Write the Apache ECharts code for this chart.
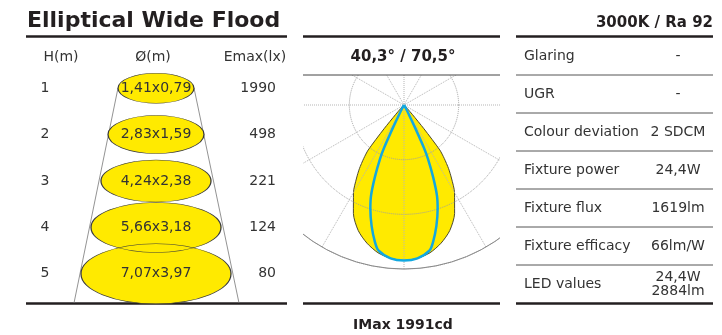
<!DOCTYPE html>
<html><head><meta charset="utf-8">
<script src="https://cdn.jsdelivr.net/npm/echarts@6/dist/echarts.min.js"></script>
<style>html,body{margin:0;padding:0;background:#fff}#c{width:722px;height:335px}</style>
</head><body><div id="c"></div>
<script>
// ---------- data ----------
const titleText = 'Elliptical Wide Flood';
const cctText = '3000K / Ra 92';
const tableHeaders = ['H(m)', 'Ø(m)', 'Emax(lx)'];
const heights = ['1', '2', '3', '4', '5'];
const spotSizes = ['1,41x0,79', '2,83x1,59', '4,24x2,38', '5,66x3,18', '7,07x3,97'];
const emax = ['1990', '498', '221', '124', '80'];
const beamAngles = '40,3° / 70,5°';
const imaxText = 'IMax 1991cd';
const specLabels = ['Glaring', 'UGR', 'Colour deviation', 'Fixture power', 'Fixture flux', 'Fixture efficacy', 'LED values'];
const specValues = ['-', '-', '2 SDCM', '24,4W', '1619lm', '66lm/W', '24,4W\n2884lm'];
// polar intensity curves (gamma from nadir in degrees, intensity in cd)
const gammaC0 = [0, 5, 10, 15, 20, 25, 30, 33, 35, 37, 38.5, 40, 41.5, 43, 50, 60, 90];
const cdC0 = [1991, 1971, 1921, 1832, 1712, 1533, 1294, 1115, 996, 856, 737, 398, 159, 60, 10, 0, 0];
const gammaC90 = [0, 5, 10, 12, 15, 18, 20, 22, 24, 25, 26, 27, 30, 35, 90];
const cdC90 = [1991, 1971, 1891, 1792, 1603, 1394, 1234, 996, 757, 597, 319, 139, 40, 0, 0];
const radiusRings = { max: 2100, step: 700 };

// ---------- styles ----------
const ellipseSizes = [[76, 30], [96, 38], [110, 42], [130, 50], [150, 60]];
const FONT = 'DejaVu Sans';
const TXT = '#333333';
const YELLOW = '#FFEA00';
const BLUE = '#12A8E0';
const ELLIPSE = 'path://M50,0C77.6,0,100,22.4,100,50C100,77.6,77.6,100,50,100C22.4,100,0,77.6,0,50C0,22.4,22.4,0,50,0Z';

function polarCurve(g, cd) {
  const pts = [];
  for (let i = g.length - 1; i >= 0; i--) pts.push([cd[i], g[i]]);
  for (let i = 1; i < g.length; i++) pts.push([cd[i], 360 - g[i]]);
  return pts;
}

const gfx = [];
// masks hiding polar grid outside the middle panel
[[0, 0, 722, 75], [0, 75, 303, 260], [500, 75, 222, 260], [0, 303, 722, 32]].forEach(r => {
  gfx.push({ type: 'rect', z: 10, silent: true, shape: { x: r[0], y: r[1], width: r[2], height: r[3] }, style: { fill: '#ffffff' } });
});
function line(x1, y1, x2, y2, w, c) {
  gfx.push({ type: 'line', z: 15, silent: true, shape: { x1, y1, x2, y2 }, style: { stroke: c || '#231F20', lineWidth: w } });
}
function text(t, x, y, size, weight, align, color) {
  gfx.push({ type: 'text', z: 25, silent: true, x, y, style: { text: t, fontFamily: FONT, fontSize: size, fontWeight: weight, fill: color || TXT, textAlign: align, textVerticalAlign: 'middle', lineHeight: 14 } });
}
// title + top lines
text(titleText, 27, 21, 22, 'bold', 'left', '#231F20');
text(cctText, 713, 23, 15, 'bold', 'right', '#231F20');
line(26, 36.5, 287, 36.5, 2.5);
line(303, 36.5, 500, 36.5, 2.5);
line(516, 36.5, 713, 36.5, 2.5);
// bottom lines
line(26, 303.5, 287, 303.5, 2.5);
line(303, 303.5, 500, 303.5, 2.5);
line(516, 303.5, 713, 303.5, 2.5);
// left table headers
const headerX = [61, 153, 255];
tableHeaders.forEach((h, i) => text(h, headerX[i], 57, 14, 'normal', 'center'));
// cone lines
line(118, 88, 74, 303, 0.8, '#777');
line(194, 88, 239, 303, 0.8, '#777');
// middle panel
text(beamAngles, 403, 57, 15, 'bold', 'center', '#231F20');
line(303, 75, 500, 75, 1, '#444');
text(imaxText, 403, 325, 14, 'bold', 'center', '#231F20');
// right table
specLabels.forEach((lab, i) => {
  const cy = 56 + 38 * i;
  text(lab, 524, cy, 14, 'normal', 'left');
  text(specValues[i], 678, cy, 14, 'normal', 'center');
  if (i < specLabels.length - 1) line(516, 75 + 38 * i, 713, 75 + 38 * i, 1, '#555');
});

const chart = echarts.init(document.getElementById('c'), null, { renderer: 'canvas' });
chart.setOption({
  backgroundColor: '#ffffff',
  animation: false,
  grid: { left: 60, top: 65, width: 192, height: 232, containLabel: false },
  xAxis: { type: 'value', min: 0, max: 1, show: false },
  yAxis: [
    { type: 'category', data: heights, inverse: true, position: 'left', z: 20,
      axisLine: { show: false }, axisTick: { show: false }, splitLine: { show: false },
      axisLabel: { align: 'center', margin: 15, fontSize: 14, color: TXT, fontFamily: FONT } },
    { type: 'category', data: emax, inverse: true, position: 'right', z: 20,
      axisLine: { show: false }, axisTick: { show: false }, splitLine: { show: false },
      axisLabel: { align: 'right', margin: 24, fontSize: 14, color: TXT, fontFamily: FONT } }
  ],
  polar: { center: [404, 105], radius: 164 },
  angleAxis: {
    type: 'value', min: 0, max: 360, interval: 30, startAngle: 270, clockwise: true, z: 3,
    axisLine: { show: true, lineStyle: { color: '#8a8a8a', width: 1 } },
    axisTick: { show: false }, axisLabel: { show: false },
    splitLine: { show: true, lineStyle: { color: '#b5b5b5', type: 'dotted', width: 1 } }
  },
  radiusAxis: {
    type: 'value', min: 0, max: radiusRings.max, interval: radiusRings.step, z: 3,
    axisLine: { show: false }, axisTick: { show: false }, axisLabel: { show: false },
    splitLine: { show: true, lineStyle: { color: '#a0a0a0', type: 'dotted', width: 1 } }
  },
  series: [
    { type: 'scatter', xAxisIndex: 0, yAxisIndex: 0, z: 20, silent: true,
      data: heights.map((h, i) => [0.5, i]), symbol: ELLIPSE,
      symbolSize: (v, p) => ellipseSizes[p.dataIndex],
      itemStyle: { color: YELLOW, opacity: 1 } },
    { type: 'scatter', xAxisIndex: 0, yAxisIndex: 0, z: 21, silent: true,
      data: heights.map((h, i) => [0.5, i]), symbol: ELLIPSE,
      symbolSize: (v, p) => ellipseSizes[p.dataIndex],
      itemStyle: { color: 'rgba(0,0,0,0)', borderColor: '#3a3a3a', borderWidth: 0.8, opacity: 1 },
      label: { show: true, position: 'inside', formatter: p => spotSizes[p.dataIndex], fontSize: 14, color: TXT, fontFamily: FONT } },
    { type: 'line', coordinateSystem: 'polar', z: 2, silent: true, data: polarCurve(gammaC0, cdC0),
      symbol: 'none', smooth: 0.25, lineStyle: { color: '#4d4a30', width: 1 }, areaStyle: { color: YELLOW, opacity: 1 } },
    { type: 'line', coordinateSystem: 'polar', z: 4, silent: true, data: polarCurve(gammaC90, cdC90),
      symbol: 'none', smooth: 0.25, lineStyle: { color: BLUE, width: 2.5 } }
  ],
  graphic: { elements: gfx }
});
</script></body></html>
